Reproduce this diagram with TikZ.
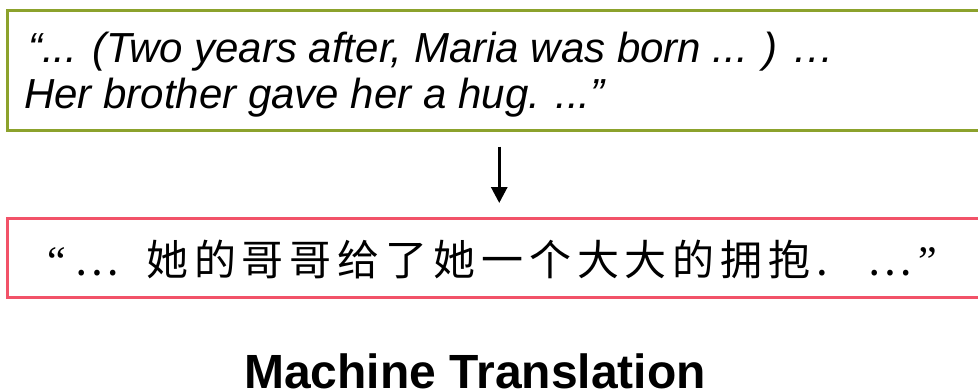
\documentclass[tikz,border=0pt]{standalone}
\usepackage{fontspec}
\setmainfont{Liberation Sans}
\newfontfamily\cjk[LetterSpace=14]{Noto Sans CJK SC}
\newfontfamily\cjkplain{Noto Sans CJK SC}
\newfontfamily\quotefont{Liberation Serif}
\usetikzlibrary{arrows.meta}
\definecolor{boxgreen}{RGB}{140,162,44}
\definecolor{boxred}{RGB}{242,82,104}
\tikzset{
  srcbox/.style={draw=boxgreen, line width=2.5pt, minimum width=984pt, minimum height=120pt, inner sep=0pt},
  tgtbox/.style={draw=boxred, line width=2.5pt, minimum width=984pt, minimum height=79pt, inner sep=0pt},
  entext/.style={font=\itshape\fontsize{42}{46}\selectfont, inner sep=0pt},
  zhtext/.style={font=\cjk\fontsize{42}{46}\selectfont, inner sep=0pt},
  zhdots/.style={font=\cjkplain\fontsize{42}{46}\selectfont, inner sep=0pt},
  qtext/.style={font=\quotefont\fontsize{42}{46}\selectfont, inner sep=0pt},
  flow/.style={line width=3pt, -{Triangle[width=16pt,length=16pt]}},
  titletext/.style={font=\bfseries\fontsize{48}{50}\selectfont, inner sep=0pt}
}
\begin{document}
\begin{tikzpicture}[x=1pt,y=-1pt]
\useasboundingbox (0,0) rectangle (978,391);
\clip (0,0) rectangle (978,391);
\node[srcbox, anchor=north west] (src) at (6,9) {};
\node[tgtbox, anchor=north west] (tgt) at (6,217) {};
\node[entext, anchor=base west] (l1) at (28,62) {“... (Two years after, Maria was born ... ) …};
\node[entext, anchor=base west] (l2) at (24,108) {Her brother gave her a hug. ...”};
\draw[flow, shorten <=15pt, shorten >=14pt] (src.south) -- (tgt.north);
\node[qtext, anchor=base west] (oq) at (47,275) {“};
\node[zhdots, anchor=base west] (od) at (74,275) {…};
\node[zhtext, anchor=base west] (zh) at (146,275) {她的哥哥给了她一个大大的拥抱.};
\node[zhdots, anchor=base west] (cd) at (867,275) {…};
\node[qtext, anchor=base west] (cq) at (918,275) {”};
\node[titletext, anchor=base] (title) at (475,388) {Machine Translation};
\end{tikzpicture}
\end{document}
